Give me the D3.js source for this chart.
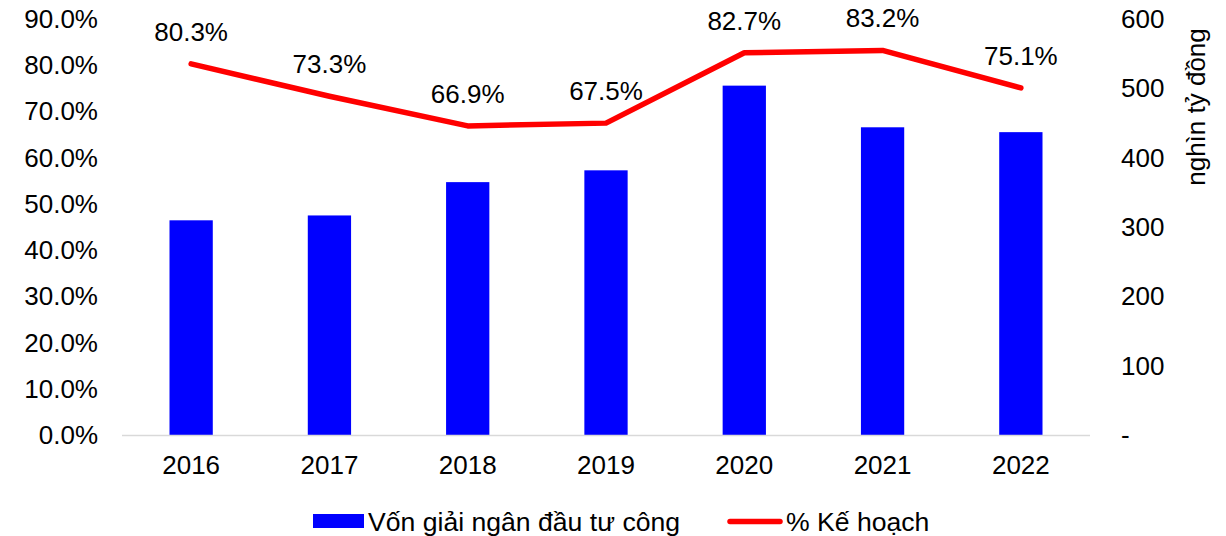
<!DOCTYPE html>
<html>
<head>
<meta charset="utf-8">
<script src="https://cdn.jsdelivr.net/npm/d3@7"></script>
<style>
  body { margin: 0; background: #fff; }
  svg { font-family: "Liberation Sans", Arial, sans-serif; }
  .axis path, .axis line { display: none; }
  .axis text { font-size: 26px; fill: #000; }
</style>
</head>
<body>
<svg id="chart" width="1226" height="536"></svg>
<script>
const years = ["2016", "2017", "2018", "2019", "2020", "2021", "2022"];
// disbursed public investment, thousand billion VND (right axis)
const disbursed = [310, 317, 365, 382, 504, 444, 437];
// % of plan (left axis)
const planPct = [80.3, 73.3, 66.9, 67.5, 82.7, 83.2, 75.1];
const leftTicks = [0, 10, 20, 30, 40, 50, 60, 70, 80, 90];
const rightTicks = [0, 100, 200, 300, 400, 500, 600];
const barLabel = "Vốn giải ngân đầu tư công";
const lineLabel = "% Kế hoạch";
const rightTitle = "nghìn tỷ đồng";

const svg = d3.select("#chart");
const plotLeft = 122, plotRight = 1090, plotTop = 19, plotBottom = 435.5;

const x = d3.scaleBand().domain(years).range([plotLeft, plotRight]);
const yPct = d3.scaleLinear().domain([0, 90]).range([plotBottom, plotTop]);
const yVal = d3.scaleLinear().domain([0, 600]).range([plotBottom, plotTop]);

const barW = x.bandwidth() * 0.313;

// bars
svg.append("g")
  .selectAll("rect")
  .data(years)
  .enter().append("rect")
  .attr("x", d => x(d) + (x.bandwidth() - barW) / 2)
  .attr("y", (d, i) => yVal(disbursed[i]))
  .attr("width", barW)
  .attr("height", (d, i) => yVal(0) - yVal(disbursed[i]))
  .attr("fill", "#0000ff");

// baseline
svg.append("line")
  .attr("x1", plotLeft).attr("x2", plotRight)
  .attr("y1", yVal(0)).attr("y2", yVal(0))
  .attr("stroke", "#d9d9d9").attr("stroke-width", 1.5);

// left axis
svg.append("g").attr("class", "axis")
  .attr("transform", "translate(" + (plotLeft - 24) + ",0)")
  .call(d3.axisLeft(yPct).tickValues(leftTicks).tickSize(0).tickPadding(0)
    .tickFormat(d => d.toFixed(1) + "%"));

// right axis
svg.append("g").attr("class", "axis")
  .attr("transform", "translate(" + (plotRight + 31) + ",0)")
  .call(d3.axisRight(yVal).tickValues(rightTicks).tickSize(0).tickPadding(0)
    .tickFormat(d => d === 0 ? "-" : d));

// x axis labels
svg.append("g").attr("class", "axis")
  .attr("transform", "translate(0," + (plotBottom + 20) + ")")
  .call(d3.axisBottom(x).tickSize(0).tickPadding(0));

// right axis title
svg.append("text")
  .attr("transform", "translate(1205,107) rotate(-90)")
  .attr("text-anchor", "middle")
  .attr("font-size", 26)
  .attr("fill", "#000")
  .text(rightTitle);

// line
const line = d3.line()
  .x((d, i) => x(years[i]) + x.bandwidth() / 2)
  .y(d => yPct(d));

svg.append("path")
  .datum(planPct)
  .attr("d", line)
  .attr("fill", "none")
  .attr("stroke", "#ff0000")
  .attr("stroke-width", 5.5)
  .attr("stroke-linecap", "round")
  .attr("stroke-linejoin", "round");

// line labels
svg.append("g")
  .selectAll("text")
  .data(planPct)
  .enter().append("text")
  .attr("x", (d, i) => x(years[i]) + x.bandwidth() / 2)
  .attr("y", d => yPct(d) - 23)
  .attr("text-anchor", "middle")
  .attr("font-size", 26)
  .attr("fill", "#000")
  .text(d => d.toFixed(1) + "%");

// legend
const legend = svg.append("g");
legend.append("rect")
  .attr("x", 313).attr("y", 514).attr("width", 51).attr("height", 14)
  .attr("fill", "#0000ff");
legend.append("text")
  .attr("x", 368).attr("y", 530.5)
  .attr("font-size", 26.6).attr("fill", "#000")
  .text(barLabel);
legend.append("line")
  .attr("x1", 730).attr("x2", 780).attr("y1", 521.5).attr("y2", 521.5)
  .attr("stroke", "#ff0000").attr("stroke-width", 5.5)
  .attr("stroke-linecap", "round");
legend.append("text")
  .attr("x", 786).attr("y", 530.5)
  .attr("font-size", 26.6).attr("fill", "#000")
  .text(lineLabel);
</script>
</body>
</html>
